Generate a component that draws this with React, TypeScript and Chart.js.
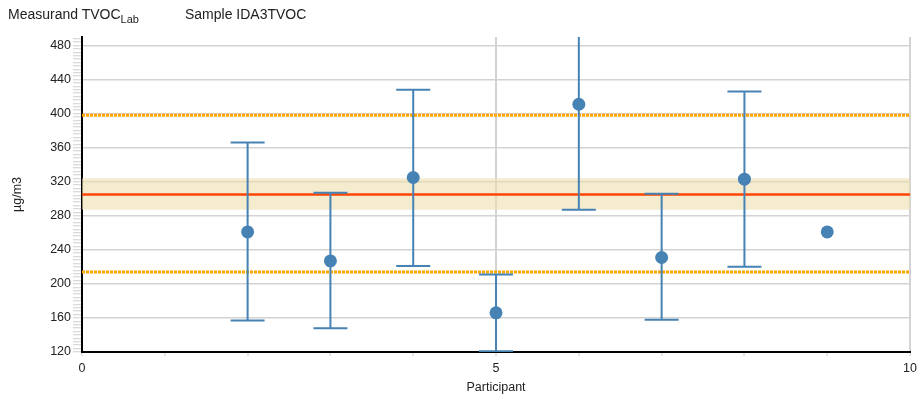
import React, { useEffect, useRef } from 'react';
import { Chart, registerables } from 'chart.js';
Chart.register(...registerables);

// ---- data ----
const participants = [2, 3, 4, 5, 6, 7, 8, 9];
const results = [261, 227, 325, 166, 411, 231, 323, 261];
const uncLower = [157, 148, 221, 121, 287, 158, 220, null];
const uncUpper = [366, 307, 428, 211, 535, 306, 426, null];
const assignedValue = 305;
const assignedLow = 287;
const assignedHigh = 324;
const limitLow = 214;
const limitHigh = 398;
const xRange = [0, 10];
const yRange = [120, 490];
const yLabelStep = 40;
const yMinorStep = 4;
const xLabelStep = 5;
const xMinorStep = 1;

const FONT = 'Arial, "Liberation Sans", sans-serif';
const BLUE = '#4682b4';

const errorBarPlugin = {
  id: 'errorBars',
  beforeDatasetDraw(chart: any, args: any) {
    if (chart.data.datasets[args.index].label !== 'results') return;
    const { ctx, chartArea, scales } = chart;
    const x = scales.x, y = scales.y;
    ctx.save();
    ctx.beginPath();
    ctx.rect(chartArea.left, chartArea.top, chartArea.right - chartArea.left, chartArea.bottom - chartArea.top);
    ctx.clip();
    ctx.strokeStyle = BLUE;
    ctx.lineWidth = 2;
    const half = 17;
    participants.forEach((p, i) => {
      const lo = uncLower[i];
      const hi = uncUpper[i];
      if (lo == null || hi == null) return;
      const px = x.getPixelForValue(p);
      const yl = y.getPixelForValue(lo);
      const yh = y.getPixelForValue(hi);
      ctx.beginPath();
      ctx.moveTo(px, yl);
      ctx.lineTo(px, yh);
      ctx.moveTo(px - half, yl);
      ctx.lineTo(px + half, yl);
      ctx.moveTo(px - half, yh);
      ctx.lineTo(px + half, yh);
      ctx.stroke();
    });
    ctx.restore();
  },
};

function hLine(v: number) {
  return [
    { x: xRange[0], y: v },
    { x: xRange[1], y: v },
  ];
}

export default function App() {
  const ref = useRef<HTMLCanvasElement>(null);
  useEffect(() => {
    if (!ref.current) return;
    const tickFont = { family: FONT, size: 12.5 };
    const chart = new Chart(ref.current, {
      type: 'scatter',
      data: {
        datasets: [
          {
            label: 'bandHigh',
            data: hLine(assignedHigh),
            showLine: true,
            pointRadius: 0,
            borderWidth: 0,
            borderColor: 'rgba(0,0,0,0)',
            backgroundColor: 'rgba(238,222,175,0.6)',
            fill: '+1',
            order: 4,
          },
          {
            label: 'bandLow',
            data: hLine(assignedLow),
            showLine: true,
            pointRadius: 0,
            borderWidth: 0,
            borderColor: 'rgba(0,0,0,0)',
            fill: false,
            order: 4,
          },
          {
            label: 'limitHigh',
            data: hLine(limitHigh),
            showLine: true,
            pointRadius: 0,
            borderWidth: 3,
            borderColor: '#ffa500',
            borderDash: [3, 1],
            fill: false,
            order: 2,
          },
          {
            label: 'limitLow',
            data: hLine(limitLow),
            showLine: true,
            pointRadius: 0,
            borderWidth: 3,
            borderColor: '#ffa500',
            borderDash: [3, 1],
            fill: false,
            order: 2,
          },
          {
            label: 'assigned',
            data: hLine(assignedValue),
            showLine: true,
            pointRadius: 0,
            borderWidth: 2.5,
            borderColor: '#ff4500',
            fill: false,
            order: 1,
          },
          {
            label: 'results',
            data: participants.map((p, i) => ({ x: p, y: results[i] })),
            pointRadius: 6.5,
            pointHoverRadius: 6.5,
            pointBackgroundColor: BLUE,
            pointBorderColor: BLUE,
            pointBorderWidth: 0,
            showLine: false,
            order: 0,
          },
        ],
      },
      options: {
        animation: false,
        responsive: false,
        maintainAspectRatio: false,
        layout: { padding: { top: 37, right: 10, left: 0, bottom: 0 } },
        plugins: { legend: { display: false }, tooltip: { enabled: false } },
        scales: {
          x: {
            type: 'linear',
            min: xRange[0],
            max: xRange[1],
            afterBuildTicks: (s: any) => {
              const t = [];
              for (let v = xRange[0]; v <= xRange[1]; v += xMinorStep) t.push({ value: v });
              s.ticks = t;
            },
            afterFit: (s: any) => {
              s.height = 51;
            },
            ticks: {
              autoSkip: false,
              maxRotation: 0,
              padding: 5,
              color: '#222',
              font: tickFont,
              callback: (v: any) => (v % xLabelStep === 0 ? String(v) : ''),
            },
            grid: {
              color: (c: any) =>
                c.tick && c.tick.value % xLabelStep === 0 && c.tick.value !== xRange[0] ? '#d3d3d3' : 'rgba(0,0,0,0)',
              tickColor: '#cccccc',
              tickLength: 4,
              tickWidth: 1,
              lineWidth: 2,
            },
            border: { color: '#000', width: 2 },
            title: {
              display: true,
              text: 'Participant',
              color: '#222',
              font: { family: FONT, size: 12.5 },
              padding: { top: 0, bottom: 8 },
            },
          },
          y: {
            type: 'linear',
            min: yRange[0],
            max: yRange[1],
            afterBuildTicks: (s: any) => {
              const t = [];
              for (let v = yRange[0]; v < yRange[1]; v += yMinorStep) t.push({ value: v });
              s.ticks = t;
            },
            afterFit: (s: any) => {
              s.width = 82;
            },
            ticks: {
              autoSkip: false,
              padding: 2,
              color: '#222',
              font: tickFont,
              callback: (v: any) => (v % yLabelStep === 0 ? String(v) : ''),
            },
            grid: {
              color: (c: any) => (c.tick && c.tick.value % yLabelStep === 0 ? '#d3d3d3' : 'rgba(0,0,0,0)'),
              tickColor: '#cfcfcf',
              tickLength: 9,
              tickWidth: 1,
              lineWidth: 1.5,
            },
            border: { color: '#000', width: 2 },
            title: {
              display: true,
              text: 'µg/m3',
              color: '#222',
              font: { family: FONT, size: 12.5 },
              padding: { top: 10, bottom: 0 },
            },
          },
        },
      },
      plugins: [errorBarPlugin],
    } as any);
    return () => chart.destroy();
  }, []);

  return (
    <div style={{ position: 'fixed', left: 0, top: 0, width: 922, height: 403, background: '#fff' }}>
      <canvas ref={ref} width={922} height={403} style={{ position: 'absolute', left: 0, top: 0 }} />
      <div
        style={{
          position: 'absolute',
          left: 8,
          top: 5,
          fontFamily: FONT,
          fontSize: 14,
          lineHeight: '18px',
          color: '#222',
          whiteSpace: 'nowrap',
        }}
      >
        <span>
          Measurand TVOC<sub style={{ fontSize: 11, verticalAlign: '-4px', lineHeight: 0 }}>Lab</sub>
        </span>
        <span style={{ position: 'absolute', left: 177 }}>Sample IDA3TVOC</span>
      </div>
    </div>
  );
}
